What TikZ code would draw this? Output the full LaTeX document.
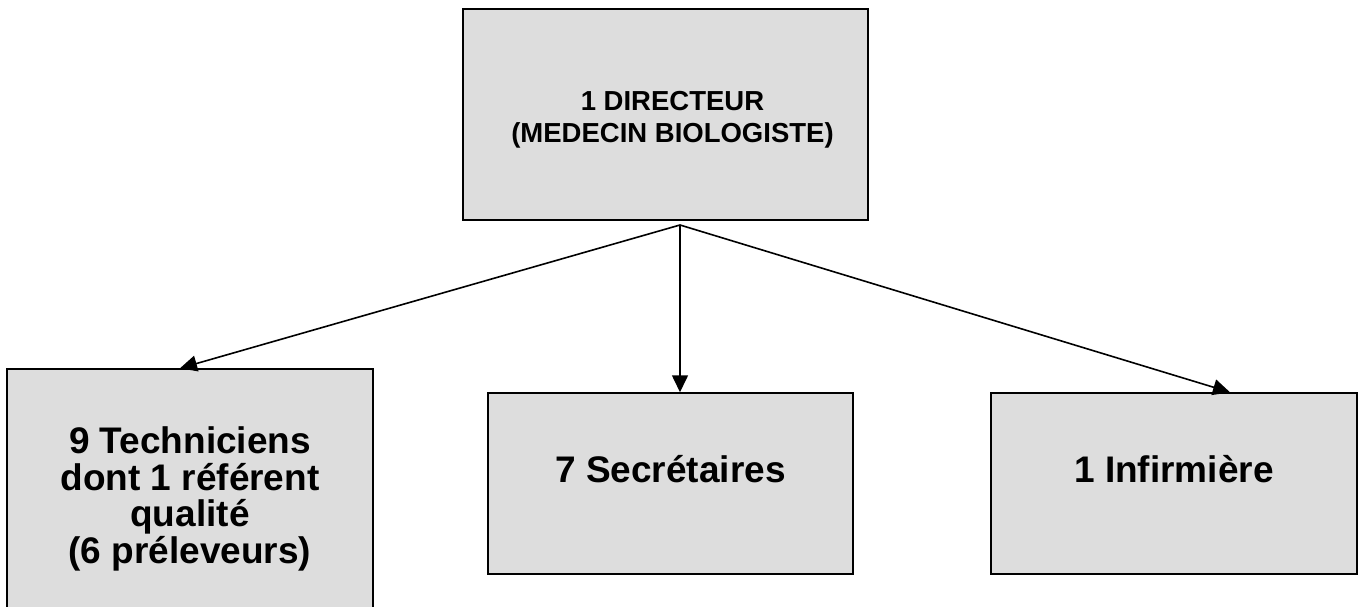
\documentclass[tikz,border=0pt]{standalone}
\usepackage{xcolor}
\usepackage{fontspec}
\setmainfont{Liberation Sans}
\usetikzlibrary{arrows.meta}
\definecolor{boxgray}{HTML}{DDDDDD}

\begin{document}
\begin{tikzpicture}[
  x=1pt, y=-1pt,
  unit/.style={draw, line width=1.5pt, fill=boxgray, inner sep=0pt, align=center},
  big/.style={font=\bfseries\fontsize{37}{36.7}\selectfont, align=center},
  small/.style={font=\bfseries\fontsize{27.5}{32}\selectfont, align=center},
  link/.style={line width=1.6pt, -{Triangle[length=17pt,width=16pt]}}
]
\useasboundingbox (0,0) rectangle (1363,607);
\node[unit, minimum width=405pt, minimum height=211pt] (dir) at (665.5,114.5) {};
\node[unit, big, minimum width=366pt, minimum height=260pt] (tech) at (190,499)
  {9 Techniciens\\dont 1 référent\\qualité\\(6 préleveurs)};
\node[unit, minimum width=365pt, minimum height=181pt] (secr) at (670.5,483.5) {};
\node[unit, minimum width=366pt, minimum height=181pt] (infi) at (1174,483.5) {};
\node[small] (dir-txt) at ([xshift=7pt,yshift=-5pt]dir.center) {1 DIRECTEUR\\(MEDECIN BIOLOGISTE)};
\node[big, anchor=base] (secr-txt) at ([yshift=1.5pt]secr.center) {7 Secrétaires};
\node[big, anchor=base] (infi-txt) at ([yshift=1.5pt]infi.center) {1 Infirmière};

\coordinate (apex) at (680,225);
\draw[link] (apex) -- ([xshift=-10pt]tech.north);
\draw[link] (apex) -- ([xshift=9.5pt]secr.north);
\draw[link] (apex) -- ([xshift=56pt]infi.north);
\end{tikzpicture}
\end{document}
